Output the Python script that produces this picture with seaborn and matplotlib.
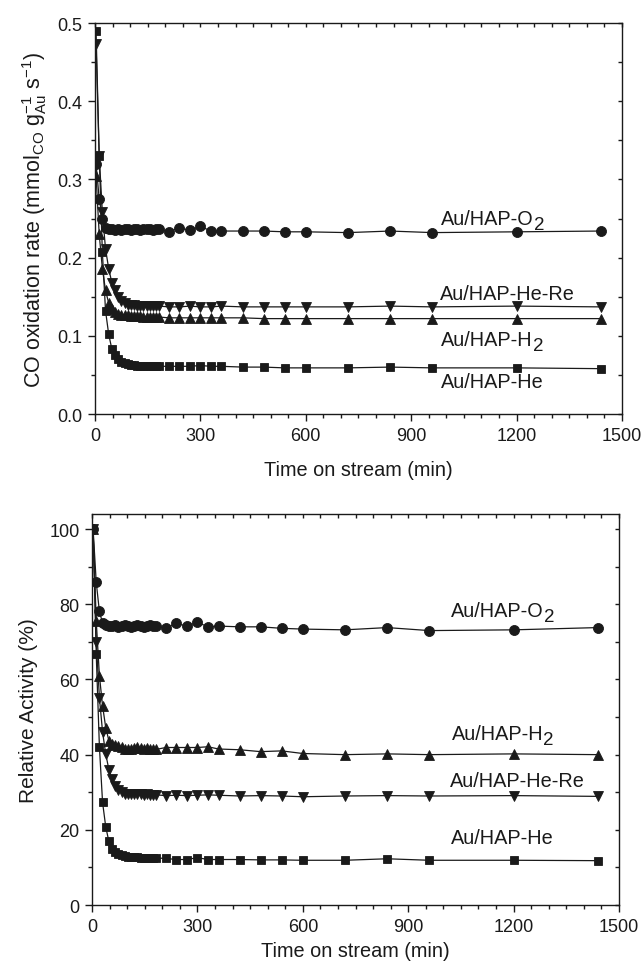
import numpy as np
import pandas as pd
import matplotlib
matplotlib.use("Agg")
import matplotlib.pyplot as plt
import seaborn as sns

# ---------------- data ----------------
t_early = [3, 12, 21, 30, 39, 48, 57, 66, 75, 84, 93, 102, 111, 120, 129, 138, 147, 156, 165, 174, 183]
t_late = [210, 240, 270, 300, 330, 360, 420, 480, 540, 600, 720, 840, 960, 1200, 1440]
time_min = t_early + t_late

series_names = ["Au/HAP-O2", "Au/HAP-He-Re", "Au/HAP-H2", "Au/HAP-He"]

rate_O2 = [0.320, 0.275, 0.250, 0.238, 0.236, 0.236, 0.235, 0.236, 0.235, 0.236, 0.236,
           0.235, 0.236, 0.236, 0.235, 0.236, 0.236, 0.236, 0.235, 0.236, 0.236,
           0.233, 0.238, 0.235, 0.240, 0.234, 0.234, 0.234, 0.234, 0.233, 0.233,
           0.232, 0.234, 0.232, 0.233, 0.234]
rate_HeRe = [0.473, 0.330, 0.258, 0.211, 0.186, 0.168, 0.158, 0.150, 0.145, 0.142, 0.140,
             0.139, 0.139, 0.138, 0.138, 0.138, 0.138, 0.138, 0.138, 0.138, 0.138,
             0.137, 0.137, 0.138, 0.137, 0.137, 0.138, 0.137, 0.137, 0.137, 0.137,
             0.137, 0.138, 0.137, 0.138, 0.137]
rate_H2 = [0.305, 0.230, 0.186, 0.158, 0.142, 0.134, 0.130, 0.128, 0.127, 0.126, 0.126,
           0.125, 0.125, 0.125, 0.125, 0.124, 0.124, 0.124, 0.124, 0.124, 0.124,
           0.123, 0.123, 0.123, 0.123, 0.123, 0.123, 0.123, 0.122, 0.122, 0.122,
           0.122, 0.122, 0.122, 0.122, 0.122]
rate_He = [0.490, 0.330, 0.207, 0.132, 0.102, 0.083, 0.075, 0.070, 0.067, 0.065, 0.064,
           0.063, 0.063, 0.062, 0.062, 0.062, 0.062, 0.061, 0.061, 0.061, 0.061,
           0.061, 0.061, 0.061, 0.062, 0.061, 0.061, 0.060, 0.060, 0.059, 0.059,
           0.059, 0.060, 0.059, 0.059, 0.058]

rel_O2 = [100, 85.8, 78.1, 75.0, 74.5, 74.3, 74.2, 74.5, 74.0, 74.3, 74.4,
          74.2, 74.0, 74.3, 74.5, 74.2, 74.0, 74.3, 74.4, 74.2, 74.3,
          73.6, 74.9, 74.2, 75.2, 74.0, 74.2, 74.0, 74.0, 73.6, 73.4,
          73.2, 73.8, 73.0, 73.2, 73.8]
rel_H2 = [100, 75.5, 61.0, 53.0, 47.2, 43.7, 42.8, 42.5, 42.3, 42.0, 41.6,
          41.4, 41.5, 41.8, 42.0, 41.8, 41.6, 41.8, 41.5, 41.6, 41.4,
          41.9, 41.9, 41.9, 41.9, 42.1, 41.5, 41.3, 40.8, 41.0, 40.3,
          40.0, 40.2, 40.0, 40.2, 40.0]
rel_HeRe = [100, 70.0, 55.2, 46.0, 40.2, 36.0, 33.5, 31.7, 30.5, 30.0, 29.6,
            29.5, 29.4, 29.4, 29.5, 29.4, 29.3, 29.4, 29.3, 29.3, 29.3,
            29.1, 29.2, 29.1, 29.2, 29.3, 29.2, 29.0, 29.1, 29.0, 28.8,
            29.0, 29.1, 29.0, 29.1, 28.9]
rel_He = [100, 66.7, 42.1, 27.3, 20.8, 16.9, 15.0, 14.0, 13.5, 13.2, 13.0,
          12.9, 12.8, 12.7, 12.7, 12.6, 12.6, 12.6, 12.5, 12.5, 12.5,
          12.4, 12.1, 12.1, 12.6, 12.1, 12.1, 12.1, 12.0, 12.0, 11.9,
          11.9, 12.3, 11.9, 11.9, 11.8]

x_ticks = [0, 300, 600, 900, 1200, 1500]
top_yticks = [0.0, 0.1, 0.2, 0.3, 0.4, 0.5]
bot_yticks = [0, 20, 40, 60, 80, 100]

# ---------------- style ----------------
sns.set_theme(style="ticks")
plt.rcParams["font.family"] = ["Liberation Sans", "DejaVu Sans"]
plt.rcParams["mathtext.fontset"] = "custom"
plt.rcParams["mathtext.rm"] = "Liberation Sans"
plt.rcParams["mathtext.it"] = "Liberation Sans"
plt.rcParams["mathtext.default"] = "regular"

INK = "#1a1a1a"
markers = {"Au/HAP-O2": "o", "Au/HAP-He-Re": "v", "Au/HAP-H2": "^", "Au/HAP-He": "s"}
msizes = {"o": 7.2, "v": 7.8, "^": 7.8, "s": 6.4}

fig = plt.figure(figsize=(6.44, 9.62), dpi=100)
ax1 = fig.add_axes([0.1475, 0.5686, 0.8183, 0.4064])
ax2 = fig.add_axes([0.1429, 0.0582, 0.8183, 0.4064])

top_vals = {"Au/HAP-O2": rate_O2, "Au/HAP-He-Re": rate_HeRe,
            "Au/HAP-H2": rate_H2, "Au/HAP-He": rate_He}
bot_vals = {"Au/HAP-O2": rel_O2, "Au/HAP-He-Re": rel_HeRe,
            "Au/HAP-H2": rel_H2, "Au/HAP-He": rel_He}


def draw(ax, vals):
    for name in series_names:
        df = pd.DataFrame({"t": time_min, "v": vals[name]})
        m = markers[name]
        sns.lineplot(data=df, x="t", y="v", ax=ax, estimator=None, sort=True,
                     color=INK, linewidth=0.9, marker=m, markersize=msizes[m],
                     markeredgecolor=INK, markerfacecolor=INK, markeredgewidth=0.6)


def style_axes(ax, ylim, yticks, yminor, yfmt):
    ax.set_xlim(0, 1500)
    ax.set_ylim(*ylim)
    ax.set_xticks(x_ticks)
    ax.set_xticks(np.arange(0, 1501, 50), minor=True)
    ax.set_yticks(yticks)
    ax.set_yticks(yminor, minor=True)
    ax.set_yticklabels([yfmt(v) for v in yticks])
    for sp in ax.spines.values():
        sp.set_visible(True)
        sp.set_linewidth(1.0)
        sp.set_color(INK)
    ax.tick_params(axis="both", which="major", direction="out", length=5, width=1.0,
                   color=INK, labelsize=13, labelcolor=INK, pad=4)
    ax.tick_params(axis="both", which="minor", direction="out", length=3, width=1.0, color=INK)
    # mirrored inward ticks on top / right
    sx = ax.secondary_xaxis("top")
    sx.set_xticks(x_ticks)
    sx.set_xticks(np.arange(0, 1501, 50), minor=True)
    sx.tick_params(which="both", direction="in", length=3, width=1.0, color=INK, labeltop=False)
    sx.spines["top"].set_visible(False)
    sy = ax.secondary_yaxis("right")
    sy.set_yticks(yticks)
    sy.set_yticks(yminor, minor=True)
    sy.tick_params(which="both", direction="in", length=3, width=1.0, color=INK, labelright=False)
    sy.spines["right"].set_visible(False)


draw(ax1, top_vals)
style_axes(ax1, (0, 0.5), top_yticks, np.arange(0, 0.501, 0.05), lambda v: f"{v:.1f}")
ax1.set_xlabel("Time on stream (min)", fontsize=14.3, color=INK, labelpad=12)
ax1.set_ylabel("CO oxidation rate (mmol$_{CO}$ g$^{-1}_{Au}$ s$^{-1}$)", fontsize=15.5,
               color=INK, labelpad=6)

draw(ax2, bot_vals)
style_axes(ax2, (0, 104), bot_yticks, np.arange(0, 101, 10), lambda v: f"{v:d}")
ax2.set_xlabel("Time on stream (min)", fontsize=14.3, color=INK, labelpad=5)
ax2.set_ylabel("Relative Activity (%)", fontsize=15, color=INK, labelpad=8)

# in-plot labels (main text + large, lowered subscript like the original)
top_label_pos = {"Au/HAP-O2": (985, 0.243), "Au/HAP-He-Re": (982, 0.147),
                 "Au/HAP-H2": (985, 0.088), "Au/HAP-He": (985, 0.035)}
bot_label_pos = {"Au/HAP-O2": (1022, 76.9), "Au/HAP-H2": (1024, 44.1),
                 "Au/HAP-He-Re": (1020, 31.7), "Au/HAP-He": (1022, 16.4)}
subscripts = {"Au/HAP-O2": ("Au/HAP-O", "2"), "Au/HAP-H2": ("Au/HAP-H", "2")}


def put_label(ax, name, x, y):
    main, sub = subscripts.get(name, (name, None))
    t = ax.text(x, y, main, fontsize=14.3, color=INK, ha="left", va="baseline")
    if sub:
        ax.annotate(sub, xy=(1, 0), xycoords=t, xytext=(0.0, -0.6),
                    textcoords="offset points", fontsize=13.5, color=INK,
                    ha="left", va="baseline")


for name, (x, y) in top_label_pos.items():
    put_label(ax1, name, x, y)
for name, (x, y) in bot_label_pos.items():
    put_label(ax2, name, x, y)

fig.savefig("out.png", dpi=100, facecolor="white")
